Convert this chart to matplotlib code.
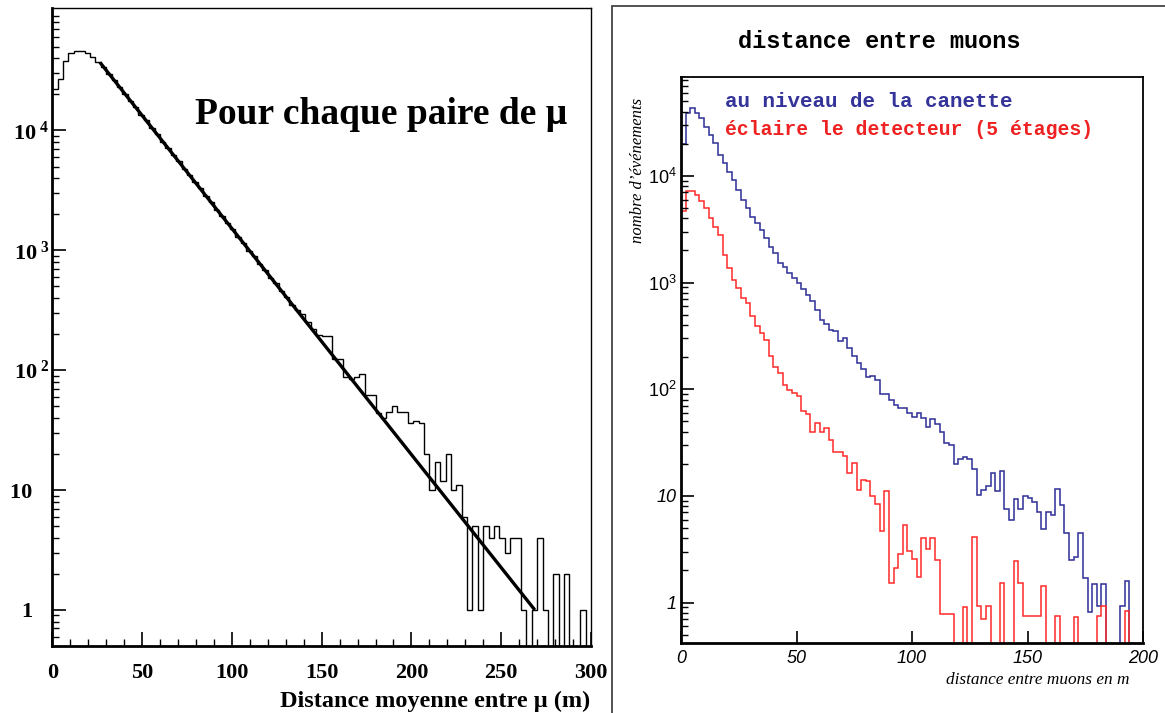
import numpy as np
import matplotlib.pyplot as plt
from matplotlib.patches import Rectangle
from matplotlib.ticker import FixedLocator, LogLocator, MultipleLocator, NullLocator

plt.rcParams['mathtext.fontset'] = 'custom'
plt.rcParams['mathtext.bf'] = 'Liberation Serif:bold'
plt.rcParams['mathtext.it'] = 'Liberation Sans:italic'
plt.rcParams['mathtext.rm'] = 'Liberation Sans'

# ---- panneau gauche : distance moyenne entre mu, bins de 3 m ----
g_edges = np.arange(0, 301, 3)
g_counts = [22000, 27000, 37600, 44000, 45800, 45800, 44400, 40800, 37000, 34000,
            29500, 26500, 23000, 20300, 17500, 15700, 13500, 12100, 10400, 9300,
            8000, 7200, 6200, 5550, 4750, 4250, 3700, 3280, 2830, 2530,
            2180, 1950, 1680, 1500, 1290, 1160, 990, 895, 765, 690,
            590, 530, 455, 410, 350, 315, 296, 253, 222, 195,
            192, 192, 125, 125, 88, 84, 88, 93, 62, 62,
            44, 40, 45, 50, 45, 45, 36, 38, 36, 20,
            10, 17, 12, 20, 10, 11, 6, 1, 5, 1,
            5, 4, 5, 4, 3, 4, 4, 1, 0, 1,
            4, 1, 0, 2, 0, 2, 0, 0, 1, 0]
fit_x = [26.5, 268.7]
fit_y = [3.7e4, 1.0]

# ---- panneau droit : distance entre muons, bins de 2 m ----
d_edges = np.arange(0, 201, 2)
canette = [19900, 38600, 43000, 39200, 34700, 28900, 24200, 20200, 15700, 13100,
           10900, 9150, 7380, 5940, 4970, 4150, 3590, 3110, 2600, 2140,
           1880, 1540, 1410, 1240, 1100, 985, 865, 766, 664, 555,
           447, 410, 360, 348, 286, 301, 243, 206, 175, 154,
           129, 133, 122, 90, 90, 79, 71, 66, 66, 60,
           55, 60, 54, 44, 52, 47, 40, 31, 30, 20,
           22, 23, 22, 18, 10.2, 11.4, 12.4, 16.5, 11, 17,
           7.5, 6, 9.4, 7.5, 10, 9.5, 8.8, 7.1, 4.9, 7.1,
           6.6, 11.5, 8.2, 4.5, 2.5, 2.7, 4.5, 1.7, 0.82, 1.5,
           0.92, 1.5, 0, 0, 0, 0.92, 1.6, 0, 0, 0]
detecteur = [4720, 7260, 7260, 6620, 5820, 4970, 4000, 3340, 2790, 1815,
             1361, 1058, 884, 712, 639, 490, 392, 335, 290, 205,
             163, 143, 110, 98, 93, 87, 62.5, 58.6, 40, 48,
             40, 43, 33.5, 26, 26, 23.4, 16.5, 20.5, 11.4, 14.1,
             13.8, 9.9, 8.4, 4.7, 11.2, 1.54, 2.1, 2.86, 5.35, 3.07,
             2.57, 1.72, 4.0, 3.18, 4.07, 2.51, 0.78, 0.78, 0.78, 0,
             0, 0.906, 0, 4.1, 0.92, 0.70, 0.92, 0, 0, 1.52,
             0, 0, 2.43, 1.52, 0.75, 0.75, 0.75, 0.75, 1.43, 0,
             0, 0.75, 0, 0, 0, 0.73, 0, 0, 0, 0,
             0.75, 0.92, 0, 0, 0, 0, 0.84, 0, 0, 0]

W, H = 1165, 713
fig = plt.figure(figsize=(W / 100, H / 100), dpi=100)

# ================= gauche =================
ax1 = fig.add_axes([52.3 / W, 1 - 646 / H, (591 - 52.3) / W, (646 - 8) / H])
ax1.set_yscale('log')
ax1.stairs(g_counts, g_edges, baseline=None, color='black', lw=1.0)
ax1.plot(fit_x, fit_y, color='black', lw=2.4, solid_capstyle='butt')
ax1.set_xlim(0, 300)
ax1.set_ylim(0.5, 1.05e5)

ax1.yaxis.set_major_locator(FixedLocator([1, 10, 100, 1000, 10000]))
ax1.set_yticklabels(['1   ', '10   ', r'$\mathbf{10^{\,\,2}}$', r'$\mathbf{10^{\,\,3}}$',
                     r'$\mathbf{10^{\,\,4}}$'])
ax1.yaxis.set_minor_locator(LogLocator(base=10, subs=np.arange(2, 10)))
ax1.xaxis.set_major_locator(MultipleLocator(50))
ax1.xaxis.set_minor_locator(MultipleLocator(10))
ax1.tick_params(which='major', direction='in', length=10, width=1.2, top=False, right=False)
ax1.tick_params(which='minor', direction='in', length=5, width=1.0, top=False, right=False)
ax1.tick_params(axis='y', which='major', pad=2)
ax1.tick_params(axis='x', which='major', pad=12)
for lab in ax1.get_xticklabels() + ax1.get_yticklabels():
    lab.set_fontfamily('Liberation Serif')
    lab.set_fontweight('bold')
    lab.set_fontsize(16)
ax1.spines['left'].set_linewidth(2.0)
ax1.spines['bottom'].set_linewidth(2.0)
ax1.spines['top'].set_linewidth(1.0)
ax1.spines['right'].set_linewidth(1.0)

fig.text(195 / W, 1 - 124 / H, 'Pour chaque paire de μ',
         fontfamily='Liberation Serif', fontweight='bold', fontsize=27, va='baseline')
fig.text(590 / W, 1 - 707 / H, 'Distance moyenne entre μ (m)', ha='right', va='baseline',
         fontfamily='Liberation Serif', fontweight='bold', fontsize=17.5)

# ================= droite =================
fig.patches.append(Rectangle((612 / W, -0.01), 0.5, 1 - 6 / H + 0.01, transform=fig.transFigure,
                             fill=False, edgecolor='#444444', lw=1.3))

ax2 = fig.add_axes([681 / W, 1 - 643.3 / H, (1143 - 681) / W, (643.3 - 76.7) / H])
ax2.set_yscale('log')
ax2.stairs(canette, d_edges, baseline=None, color='#2e2e96', lw=1.1)
ax2.stairs(detecteur, d_edges, baseline=None, color='#ff2a2a', lw=1.1)
ax2.set_xlim(0, 200)
ax2.set_ylim(0.415, 8.5e4)

ax2.yaxis.set_major_locator(FixedLocator([1, 10, 100, 1000, 10000]))
ax2.set_yticklabels(['1', '10', r'$\mathit{10^{2}}$', r'$\mathit{10^{3}}$', r'$\mathit{10^{4}}$'])
ax2.yaxis.set_minor_locator(LogLocator(base=10, subs=np.arange(2, 10)))
ax2.xaxis.set_major_locator(MultipleLocator(50))
ax2.xaxis.set_minor_locator(NullLocator())
ax2.tick_params(which='major', direction='in', length=9, width=1.2, top=False, right=False)
ax2.tick_params(which='minor', direction='in', length=5, width=1.0, top=False, right=False)
ax2.tick_params(axis='y', which='major', pad=3)
ax2.tick_params(axis='x', which='major', pad=5)
for lab in ax2.get_xticklabels() + ax2.get_yticklabels():
    lab.set_fontfamily('Liberation Sans')
    lab.set_fontstyle('italic')
    lab.set_fontsize(13)
for s in ['left', 'bottom']:
    ax2.spines[s].set_linewidth(2.0)
for s in ['top', 'right']:
    ax2.spines[s].set_linewidth(1.3)

fig.text(879 / W, 1 - 48 / H, 'distance entre muons', ha='center', va='baseline',
         fontfamily='Liberation Mono', fontweight='bold', fontsize=17)
fig.text(725 / W, 1 - 107 / H, 'au niveau de la canette', va='baseline', color='#333399',
         fontfamily='Liberation Mono', fontweight='bold', fontsize=15)
fig.text(725 / W, 1 - 135 / H, 'éclaire le detecteur (5 étages)', va='baseline', color='#ee2222',
         fontfamily='Liberation Mono', fontweight='bold', fontsize=14.2)
fig.text(638 / W, 1 - 170 / H, 'nombre d\u2019événements', rotation=90, ha='center', va='center',
         fontfamily='Liberation Serif', fontstyle='italic', fontsize=12)
fig.text(1130 / W, 1 - 684 / H, 'distance entre muons en m', ha='right', va='baseline',
         fontfamily='Liberation Serif', fontstyle='italic', fontsize=12.4)

fig.savefig('out.png', dpi=100)
